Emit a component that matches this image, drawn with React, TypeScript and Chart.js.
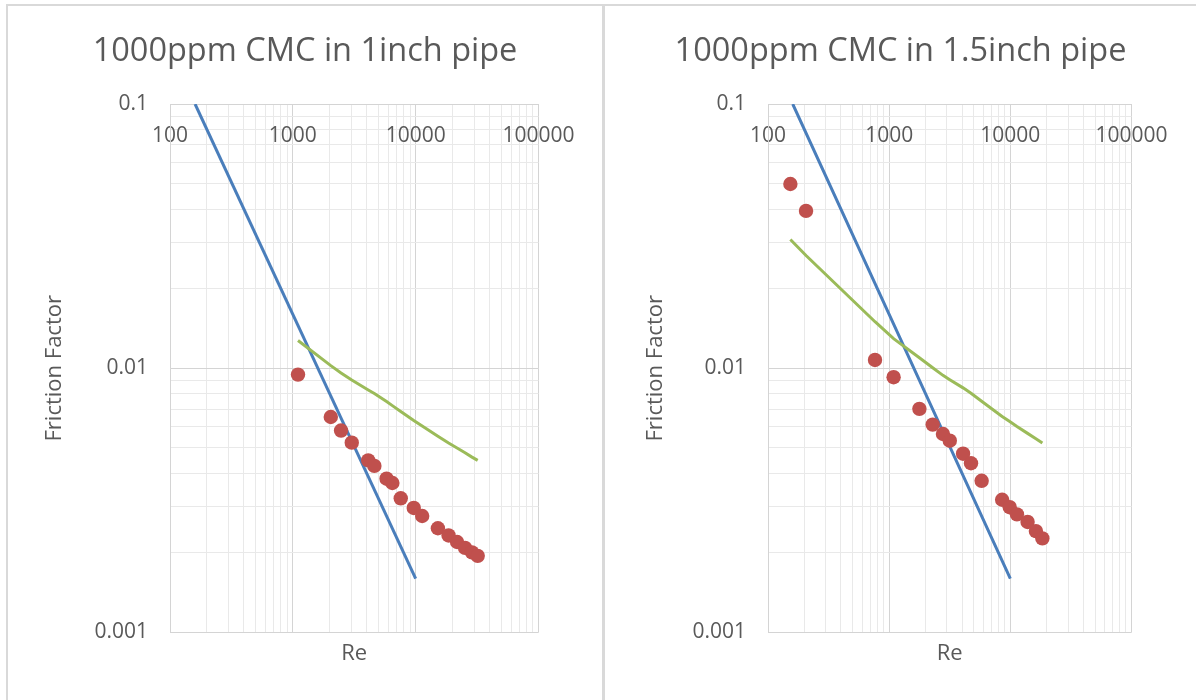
import React, { useEffect, useRef } from "react";
import { Chart, registerables } from "chart.js";

Chart.register(...registerables);

// ---- tick labels ----
const xTickLabels = ["100", "1000", "10000", "100000"];
const yTickLabels = ["0.001", "0.01", "0.1"];

// ---- laminar line (blue) ----
const reLaminar = [160, 1000, 10000];
const fLaminar = [0.1, 0.016, 0.0016];

// ---- 1 inch pipe ----
const re1inch = [1102, 2037, 2469, 3018, 4111, 4610, 5796, 6460, 7560, 9650, 11300, 15170, 18530, 21730, 25240, 28740, 31990];
const fExp1inch = [0.00946, 0.00654, 0.00581, 0.00523, 0.00448, 0.00427, 0.00382, 0.00368, 0.00322, 0.00296, 0.00276, 0.00248, 0.00233, 0.0022, 0.00209, 0.00201, 0.00195];
const fCorr1inch = [0.01274, 0.01023, 0.0096, 0.00903, 0.00828, 0.00802, 0.00748, 0.00722, 0.00686, 0.00634, 0.00604, 0.00553, 0.00521, 0.00499, 0.00479, 0.00461, 0.00448];

// ---- 1.5 inch pipe ----
const re15inch = [153, 206, 764, 1088, 1776, 2287, 2779, 3164, 4073, 4738, 5797, 8558, 9886, 11340, 13880, 16260, 18380];
const fExp15inch = [0.0498, 0.0394, 0.01075, 0.00925, 0.00702, 0.00612, 0.00564, 0.00532, 0.00475, 0.00437, 0.00375, 0.00318, 0.00298, 0.0028, 0.00262, 0.00242, 0.00227];
const fCorr15inch = [0.0307, 0.0267, 0.015, 0.01294, 0.01096, 0.01005, 0.0094, 0.00905, 0.00843, 0.00804, 0.0075, 0.00657, 0.00629, 0.00602, 0.00567, 0.00541, 0.00521];

const TEXT = "#595959";
const MAJOR = "#d4d4d4";
const MINOR = "#e9e9e9";
const FONT = "'Open Sans', sans-serif";

function logTicks(labels: string[]) {
  const majors = labels.map(Number);
  const out: { value: number; major: boolean }[] = [];
  for (let i = 0; i < majors.length; i++) {
    out.push({ value: majors[i], major: true });
    if (i < majors.length - 1) {
      for (let m = 2; m <= 9; m++) {
        out.push({ value: Number((majors[i] * m).toPrecision(8)), major: false });
      }
    }
  }
  return out;
}

function labelFor(labels: string[], v: number) {
  for (const l of labels) {
    const n = Number(l);
    if (Math.abs(n - v) / n < 1e-6) return l;
  }
  return "";
}

type PanelProps = {
  title: string;
  re: number[];
  fExp: number[];
  fCorr: number[];
  left: number;
  width: number;
  chartLeft: number;
  chartRight: number;
  yTitlePad: number;
};

const CANVAS_TOP = 6;
const CANVAS_H = 694;
const TITLE_SIZE = 32.5;
const TITLE_PAD_TOP = 26;
const CHART_TOP = 98;
const CHART_BOTTOM = 626.5;

function Panel(p: PanelProps) {
  const ref = useRef<HTMLCanvasElement | null>(null);
  useEffect(() => {
    if (!ref.current) return;
    const pts = (xs: number[], ys: number[]) => xs.map((x, i) => ({ x, y: ys[i] }));
    const titleBoxH = TITLE_PAD_TOP + TITLE_SIZE * 1.2;
    const chart = new Chart(ref.current, {
      type: "scatter",
      data: {
        datasets: [
          {
            label: "Laminar",
            data: pts(reLaminar, fLaminar),
            showLine: true,
            borderColor: "#4A7EBB",
            backgroundColor: "#4A7EBB",
            borderWidth: 3,
            pointRadius: 0,
            order: 2,
            xAxisID: "x",
            yAxisID: "y",
          },
          {
            label: "Experimental",
            data: pts(p.re, p.fExp),
            showLine: false,
            backgroundColor: "#C0504D",
            borderColor: "#C0504D",
            pointRadius: 7.2,
            pointBorderWidth: 0,
            order: 1,
            xAxisID: "x",
            yAxisID: "y",
          },
          {
            label: "Correlation",
            data: pts(p.re, p.fCorr),
            showLine: true,
            borderColor: "#9BBB59",
            backgroundColor: "#9BBB59",
            borderWidth: 3,
            pointRadius: 0,
            order: 0,
            xAxisID: "x",
            yAxisID: "y",
          },
        ],
      },
      options: {
        animation: false,
        responsive: false,
        maintainAspectRatio: false,
        events: [],
        layout: { padding: 0, autoPadding: false },
        plugins: {
          legend: { display: false },
          tooltip: { enabled: false },
          title: {
            display: true,
            text: p.title,
            color: TEXT,
            font: { family: FONT, size: TITLE_SIZE, weight: "normal" },
            padding: { top: TITLE_PAD_TOP, bottom: 0 },
          },
        },
        scales: {
          x: {
            type: "logarithmic",
            position: "top",
            min: 100,
            max: 100000,
            afterBuildTicks: (s: any) => {
              s.ticks = logTicks(xTickLabels);
            },
            afterFit: (s: any) => {
              s.height = CHART_TOP - titleBoxH;
            },
            grid: {
              color: (c: any) => (c.tick && c.tick.major ? MAJOR : MINOR),
              lineWidth: 1,
              drawTicks: false,
            },
            border: { display: true, color: MAJOR, width: 1 },
            ticks: {
              autoSkip: false,
              maxRotation: 0,
              minRotation: 0,
              mirror: true,
              padding: 19.5,
              color: TEXT,
              font: { family: FONT, size: 21 },
              callback: (v: any) => labelFor(xTickLabels, Number(v)),
            },
          },
          xt: {
            type: "linear",
            position: "bottom",
            display: true,
            min: 0,
            max: 1,
            grid: { display: false, drawTicks: false },
            border: { display: false },
            ticks: { display: false },
            title: {
              display: true,
              text: "Re",
              color: TEXT,
              font: { family: FONT, size: 22 },
              padding: { top: 0, bottom: 33.3 },
            },
            afterFit: (s: any) => {
              s.height = CANVAS_H - CHART_BOTTOM;
            },
          },
          y: {
            type: "logarithmic",
            position: "left",
            min: 0.001,
            max: 0.1,
            afterBuildTicks: (s: any) => {
              s.ticks = logTicks(yTickLabels);
            },
            afterFit: (s: any) => {
              s.width = p.chartLeft;
            },
            grid: {
              color: (c: any) => (c.tick && c.tick.major ? MAJOR : MINOR),
              lineWidth: 1,
              drawTicks: false,
            },
            border: { display: true, color: MAJOR, width: 1 },
            ticks: {
              autoSkip: false,
              padding: 22,
              color: TEXT,
              font: { family: FONT, size: 21 },
              callback: (v: any) => labelFor(yTickLabels, Number(v)),
            },
            title: {
              display: true,
              text: "Friction Factor",
              color: TEXT,
              font: { family: FONT, size: 22 },
              padding: { top: p.yTitlePad, bottom: 0 },
            },
          },
          yr: {
            type: "linear",
            position: "right",
            display: true,
            min: 0,
            max: 1,
            grid: { display: false, drawTicks: false },
            border: { display: false },
            ticks: { display: false },
            afterFit: (s: any) => {
              s.width = p.width - p.chartRight;
            },
          },
        },
      } as any,
    });
    return () => chart.destroy();
  }, []);
  return (
    <canvas
      ref={ref}
      width={p.width}
      height={CANVAS_H}
      style={{ position: "absolute", left: p.left, top: CANVAS_TOP, width: p.width, height: CANVAS_H }}
    />
  );
}

export default function App() {
  useEffect(() => {
    document.body.style.margin = "0";
  }, []);
  return (
    <div style={{ position: "relative", width: 1196, height: 700, overflow: "hidden", background: "#fff" }}>
      <div
        style={{
          position: "absolute",
          left: 6,
          top: 4,
          width: 598,
          height: 720,
          border: "2px solid #d9d9d9",
          boxSizing: "border-box",
        }}
      />
      <div
        style={{
          position: "absolute",
          left: 603,
          top: 4,
          width: 700,
          height: 720,
          border: "2px solid #d9d9d9",
          boxSizing: "border-box",
        }}
      />
      <Panel
        title="1000ppm CMC in 1inch pipe"
        re={re1inch}
        fExp={fExp1inch}
        fCorr={fCorr1inch}
        left={8}
        width={594}
        chartLeft={162}
        chartRight={530.5}
        yTitlePad={33.6}
      />
      <Panel
        title="1000ppm CMC in 1.5inch pipe"
        re={re15inch}
        fExp={fExp15inch}
        fCorr={fCorr15inch}
        left={605}
        width={591}
        chartLeft={163}
        chartRight={526.5}
        yTitlePad={37.2}
      />
    </div>
  );
}
